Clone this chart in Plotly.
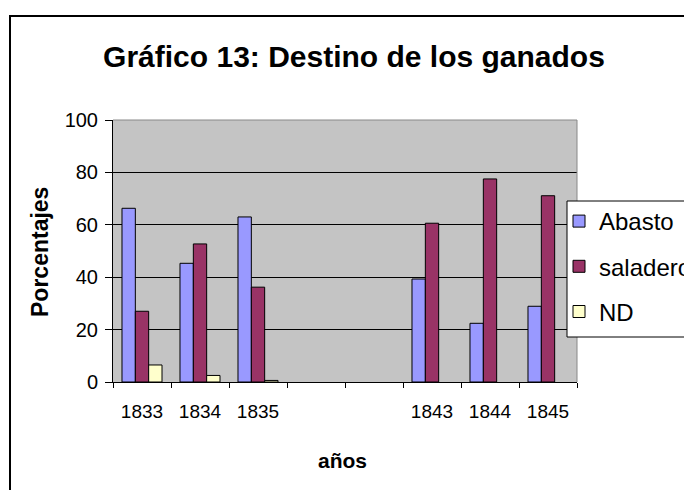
import plotly.graph_objects as go

categories = ["1833", "1834", "1835", " ", "  ", "1843", "1844", "1845"]
abasto = [66.3, 45.3, 63.0, None, None, 39.3, 22.4, 28.9]
saladero = [27.0, 52.7, 36.2, None, None, 60.6, 77.5, 71.1]
nd = [6.5, 2.5, 0.6, None, None, None, None, None]
y_ticks = [0, 20, 40, 60, 80, 100]

series = [("Abasto", abasto, "#9999FF"), ("saladero", saladero, "#993366"), ("ND", nd, "#FFFFCC")]

W, H = 684, 490
L, R, T, B = 113, 107, 120, 108
pw, ph = W - L - R, H - T - B

def px(x):
    return (x - L) / pw

def py(y):
    return (H - B - y) / ph

fig = go.Figure()
for i, (name, vals, col) in enumerate(series):
    fig.add_trace(go.Bar(
        x=categories, y=vals, name=name, legendgroup=str(i),
        marker=dict(color=col, line=dict(color="black", width=1)),
    ))

font = "Liberation Sans, Arial, sans-serif"
fig.update_layout(
    width=W, height=H,
    margin=dict(l=L, r=R, t=T, b=B, autoexpand=False),
    paper_bgcolor="white", plot_bgcolor="#c4c4c4",
    barmode="group", bargap=0.31, bargroupgap=0,
    font=dict(family=font, color="black", size=19),
    title=dict(text="<b>Gráfico 13: Destino de los ganados</b>", x=354 / W, xanchor="center",
               y=1 - 56 / H, yanchor="middle", font=dict(size=30, family=font, color="black")),
    showlegend=True,
    legend=dict(x=px(559), y=py(199), xanchor="left", yanchor="top",
                bgcolor="rgba(0,0,0,0)", borderwidth=0,
                font=dict(size=24, family=font, color="black"),
                tracegroupgap=11, traceorder="grouped"),
    xaxis=dict(type="category", categoryorder="array", categoryarray=categories,
               tickson="boundaries", ticks="outside", ticklen=5, tickcolor="black",
               showline=True, linecolor="black", linewidth=1, showgrid=False,
               tickfont=dict(size=19), ticklabelstandoff=12),
    yaxis=dict(range=[0, 100], tickvals=y_ticks, ticks="outside", ticklen=7, tickcolor="black",
               showline=True, linecolor="black", linewidth=1, showgrid=True,
               gridcolor="black", gridwidth=1, zeroline=False, tickfont=dict(size=20),
               ticklabelstandoff=3),
    shapes=[
        dict(type="path", xref="paper", yref="paper", path="M0,1 L1,1 L1,0",
             line=dict(color="#888888", width=1), layer="above"),
        dict(type="rect", xref="paper", yref="paper", x0=px(567), y0=py(201), x1=px(720), y1=py(337),
             line=dict(color="black", width=1), fillcolor="white", layer="above"),
        dict(type="rect", xref="paper", yref="paper", x0=px(10), y0=py(16), x1=px(720), y1=py(520),
             line=dict(color="black", width=2), fillcolor="rgba(0,0,0,0)", layer="above"),
    ],
    annotations=[
        dict(text="<b>Porcentajes</b>", xref="paper", yref="paper", x=px(40), y=py(252),
             xanchor="center", yanchor="middle",
             textangle=-90, showarrow=False, font=dict(size=23, family=font, color="black")),
        dict(text="<b>años</b>", xref="paper", yref="paper", x=px(342), y=py(460),
             xanchor="center", yanchor="middle",
             showarrow=False, font=dict(size=21, family=font, color="black")),
    ],
)

fig.write_html("out.html", post_script="document.body.style.margin='0';",
               config={"displayModeBar": False})
